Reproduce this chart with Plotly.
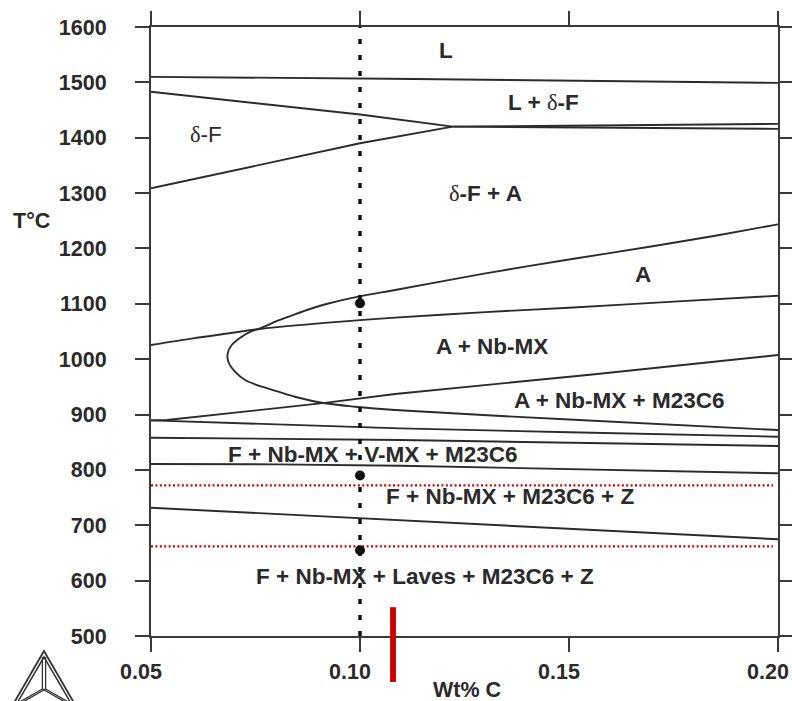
import plotly.graph_objects as go

# ---- axis ranges and ticks ----
C_RANGE = [0.05, 0.20]
T_RANGE = [500, 1600]
x_ticks = [0.05, 0.10, 0.15, 0.20]
x_ticktext = ["0.05", "0.10", "0.15", "0.20"]
y_ticks = [500, 600, 700, 800, 900, 1000, 1100, 1200, 1300, 1400, 1500, 1600]

# ---- phase boundaries (wt% C, T in degC) ----
liquidus_c = [0.05, 0.107, 0.20]
liquidus_t = [1510, 1506.5, 1499]

dferrite_top_c = [0.05, 0.10, 0.1222]
dferrite_top_t = [1483, 1442, 1420]

dferrite_bot_c = [0.05, 0.10, 0.1222]
dferrite_bot_t = [1308.6, 1390, 1420]

peritectic_hi_c = [0.1222, 0.20]
peritectic_hi_t = [1420, 1425]

peritectic_lo_c = [0.1222, 0.20]
peritectic_lo_t = [1420, 1416]

# C-shaped austenite / M23C6 boundary, upper branch -> nose -> lower branch
c_curve_c = [0.20, 0.185, 0.17, 0.15, 0.13, 0.1084, 0.0996, 0.0924, 0.0884,
             0.0844, 0.0805, 0.0765, 0.0741, 0.0717, 0.0693, 0.06834, 0.0685,
             0.0701, 0.0725, 0.0765, 0.0805, 0.0844, 0.0916, 0.0988, 0.1084,
             0.15, 0.20]
c_curve_t = [1243.5, 1223, 1204, 1180, 1155, 1125, 1113, 1100.5, 1091.5,
             1081, 1070, 1057, 1050.5, 1040.6, 1025.6, 1010, 995.4,
             977.4, 962.4, 950.3, 941.3, 932.2, 920.3, 914.2, 908.2,
             891, 872]

a_nbmx_c = [0.05, 0.0605, 0.0765, 0.0924, 0.1084, 0.13, 0.15, 0.175, 0.20]
a_nbmx_t = [1025.6, 1038, 1055, 1066, 1075, 1085, 1093, 1104, 1114.6]

rising_c = [0.05, 0.0538, 0.0916, 0.1084, 0.155, 0.20]
rising_t = [889.5, 890.1, 921, 937, 972, 1007.5]

line_888_c = [0.05, 0.1096, 0.15, 0.20]
line_888_t = [889.5, 875.1, 868, 860]

line_860_c = [0.05, 0.1096, 0.20]
line_860_t = [858.2, 854, 843.2]

line_812_c = [0.05, 0.08, 0.1096, 0.20]
line_812_t = [810.7, 810, 807.6, 793.9]

line_730_c = [0.05, 0.1096, 0.20]
line_730_t = [731.7, 709.5, 674.7]

# ---- alloy composition and marked temperatures ----
alloy_c = 0.10
marked_t = [1100.9, 789.9, 654.8]
ref_temps = [772, 662]
ref_c = [0.05, 0.1988]
bar_c = 0.1079
bar_t = [417, 552]

# ---- phase field labels ----
labels = [
    ("L", 0.1206, 1557.5, True),
    ("L + <span style='font-family:Liberation Serif;font-weight:normal'>δ</span>-F", 0.1440, 1464.5, True),
    ("<span style='font-family:Liberation Serif'>δ</span>-F", 0.0632, 1406.7, False),
    ("<span style='font-family:Liberation Serif;font-weight:normal'>δ</span>-F + A", 0.1301, 1300, True),
    ("A", 0.1677, 1153.8, True),
    ("A + Nb-MX", 0.1316, 1023.8, True),
    ("A + Nb-MX + M23C6", 0.1620, 924.5, True),
    ("F + Nb-MX + V-MX + M23C6", 0.1031, 828.7, True),
    ("F + Nb-MX + M23C6 + Z", 0.1359, 752, True),
    ("F + Nb-MX + Laves + M23C6 + Z", 0.1156, 606.6, True),
]

LINE_COL = "#2b2b2b"
AX_COL = "#3a3a3a"
TXT_COL = "#2a2a2a"
FONT = "Liberation Sans, Arial, sans-serif"

# figure geometry
W, H = 792, 701
ML, MR, MT, MB = 151, 14, 27, 65
PW, PH = W - ML - MR, H - MT - MB


def px_to_paper(px, py):
    return (px - ML) / PW, (H - MB - py) / PH


def t_to_paper(t):
    return (t - T_RANGE[0]) / (T_RANGE[1] - T_RANGE[0])


fig = go.Figure()

straight = [
    (liquidus_c, liquidus_t), (dferrite_top_c, dferrite_top_t),
    (dferrite_bot_c, dferrite_bot_t), (peritectic_hi_c, peritectic_hi_t),
    (peritectic_lo_c, peritectic_lo_t), (rising_c, rising_t),
    (line_888_c, line_888_t), (line_860_c, line_860_t),
    (line_812_c, line_812_t), (line_730_c, line_730_t),
]
curved = [(c_curve_c, c_curve_t), (a_nbmx_c, a_nbmx_t)]

for cs, ts in straight:
    fig.add_trace(go.Scatter(x=cs, y=ts, mode="lines",
                             line=dict(color=LINE_COL, width=1.9),
                             hoverinfo="skip", showlegend=False))
for cs, ts in curved:
    fig.add_trace(go.Scatter(x=cs, y=ts, mode="lines",
                             line=dict(color=LINE_COL, width=1.9, shape="spline", smoothing=0.8),
                             hoverinfo="skip", showlegend=False))

# reference temperatures (red dotted)
for t in ref_temps:
    fig.add_trace(go.Scatter(x=ref_c, y=[t, t], mode="lines",
                             line=dict(color="#cc0000", width=2.2, dash="2px,2.4px"),
                             hoverinfo="skip", showlegend=False))

# alloy composition (black dotted vertical)
fig.add_trace(go.Scatter(x=[alloy_c, alloy_c], y=T_RANGE, mode="lines",
                         line=dict(color="#111111", width=3.5, dash="5px,11px"),
                         hoverinfo="skip", showlegend=False))

fig.add_trace(go.Scatter(x=[alloy_c] * len(marked_t), y=marked_t, mode="markers",
                         marker=dict(color="#111111", size=10),
                         hoverinfo="skip", showlegend=False))

annotations = []
for text, c, t, bold in labels:
    annotations.append(dict(x=c, y=t, xref="x", yref="y", text=text, showarrow=False,
                            font=dict(family=FONT, size=22.5, color=TXT_COL,
                                      weight="bold" if bold else "normal"),
                            xanchor="center", yanchor="middle"))

tx, ty = px_to_paper(31, 221)
annotations.append(dict(x=tx, y=ty, xref="paper", yref="paper", text="T°C", showarrow=False,
                        font=dict(family=FONT, size=21.5, color=TXT_COL, weight="bold"),
                        xanchor="center", yanchor="middle"))
wx, wy = px_to_paper(467, 690)
annotations.append(dict(x=wx, y=wy, xref="paper", yref="paper", text="Wt% C", showarrow=False,
                        font=dict(family=FONT, size=21.5, color=TXT_COL, weight="bold"),
                        xanchor="center", yanchor="middle"))

shapes = []
# red composition marker below the axis
shapes.append(dict(type="rect", xref="x", yref="paper",
                   x0=bar_c - 0.0007, x1=bar_c + 0.0007,
                   y0=t_to_paper(bar_t[0]), y1=t_to_paper(bar_t[1]),
                   fillcolor="#cc0000", line=dict(width=0), layer="above"))


# software logo: nested triangle with spokes to the centroid
def tri_path(ax, ay, half, h):
    pts = [(ax, ay), (ax - half, ay + h), (ax + half, ay + h)]
    pp = [px_to_paper(*p) for p in pts]
    return "M {} {} L {} {} L {} {} Z".format(pp[0][0], pp[0][1], pp[1][0], pp[1][1], pp[2][0], pp[2][1])


logo_col = "#333333"
shapes.append(dict(type="path", xref="paper", yref="paper", path=tri_path(44, 651, 33, 57),
                   line=dict(color=logo_col, width=1.8)))
shapes.append(dict(type="path", xref="paper", yref="paper", path=tri_path(44, 657, 28, 48),
                   line=dict(color=logo_col, width=1.5)))
cx, cy = 44, 689
for vx, vy in [(44, 657), (16, 705), (72, 705)]:
    for off in (-1.6, 1.6):
        p0 = px_to_paper(cx + off, cy)
        p1 = px_to_paper(vx + off, vy)
        shapes.append(dict(type="line", xref="paper", yref="paper",
                           x0=p0[0], y0=p0[1], x1=p1[0], y1=p1[1],
                           line=dict(color=logo_col, width=1.3)))

axis_common = dict(showline=True, linewidth=2, linecolor=AX_COL, mirror="ticks",
                   ticks="outside", ticklen=14, tickwidth=2, tickcolor=AX_COL,
                   showgrid=False, zeroline=False,
                   tickfont=dict(family=FONT, size=21.5, color=TXT_COL, weight="bold"))

fig.update_layout(
    width=W, height=H,
    margin=dict(l=ML, r=MR, t=MT, b=MB, pad=0),
    paper_bgcolor="white", plot_bgcolor="white",
    template="none",
    showlegend=False,
    xaxis=dict(range=C_RANGE, tickvals=x_ticks, ticktext=x_ticktext,
               ticklabelshift=-10, ticklabelstandoff=1, **axis_common),
    yaxis=dict(range=T_RANGE, tickvals=y_ticks, ticklabelstandoff=24, **axis_common),
    annotations=annotations,
    shapes=shapes,
)

fig.write_html("out.html")
